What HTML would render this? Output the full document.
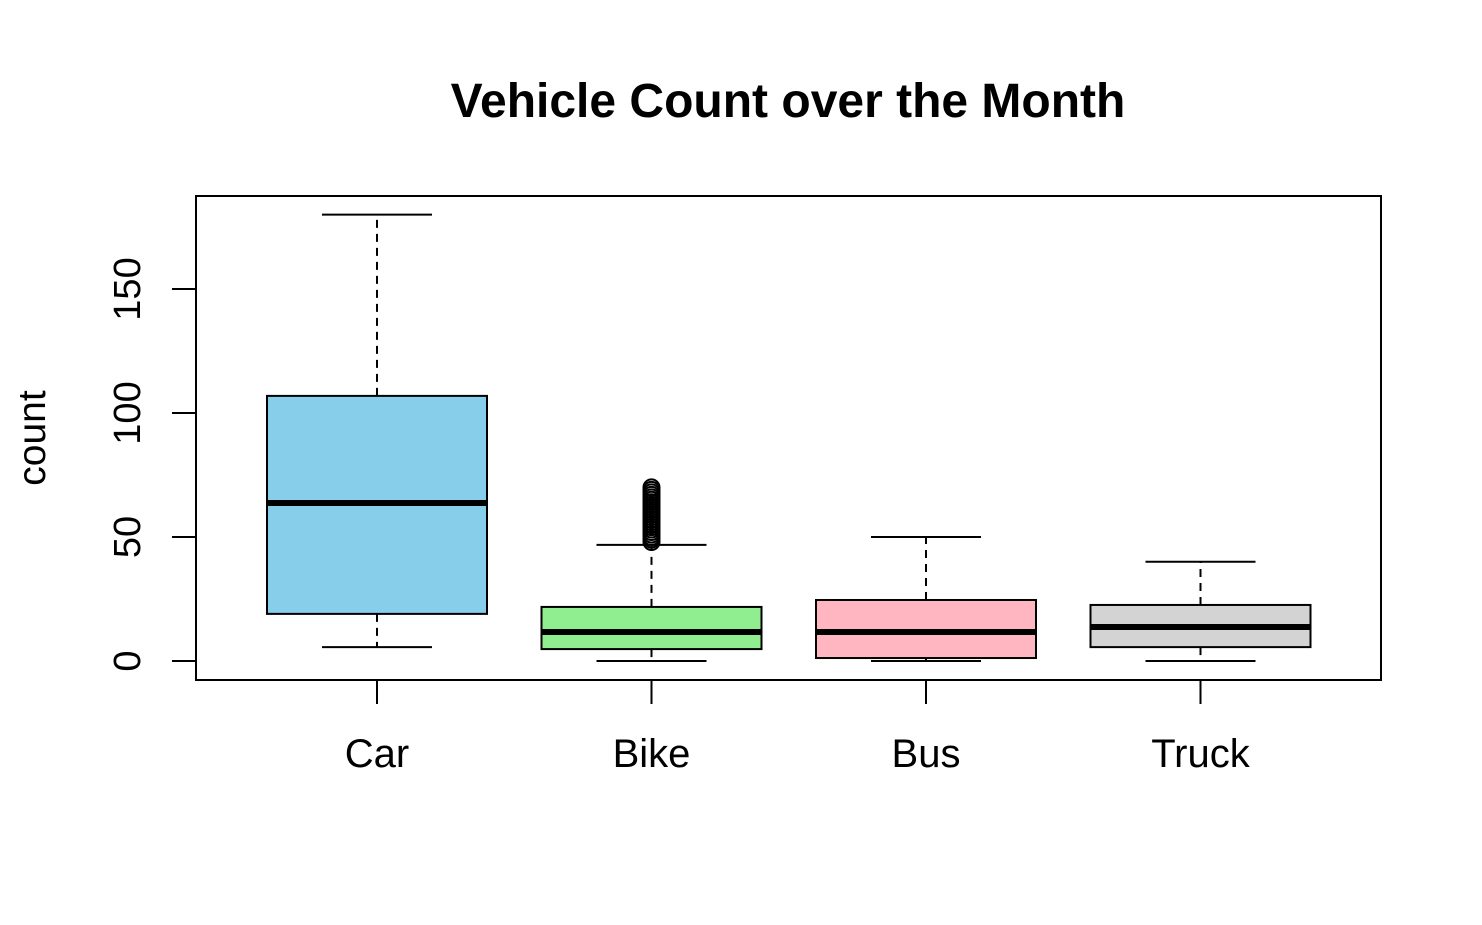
<!DOCTYPE html>
<html><head><meta charset="utf-8"><style>
html,body{margin:0;padding:0;background:#fff;}
svg{display:block;font-family:"Liberation Sans",Arial,sans-serif;}
</style></head><body>
<svg id="chart" width="1482" height="925">
<text x="788" y="117" text-anchor="middle" font-size="48" font-weight="bold">Vehicle Count over the Month</text>
<text transform="translate(45,438) rotate(-90)" text-anchor="middle" font-size="39">count</text>
<rect x="196" y="196" width="1185" height="484" fill="none" stroke="#000" stroke-width="2"/>
<g id="marks"></g>
</svg>
<script>
const categories=["Car","Bike","Bus","Truck"];
const colors=["#87CEEB","#90EE90","#FFB6C1","#D3D3D3"];
const lowerWhisker=[5.6,0,0,0];
const q1=[19,4.8,1.2,5.6];
const median=[63.7,11.7,11.7,13.7];
const q3=[106.9,21.8,24.6,22.6];
const upperWhisker=[180,46.8,50,40];
const bikeOutliers=[48,49,50,51,52,53,54,55,56,57,58,59,60,61,62,63,64,65,66,67,68,69,70];
const yTicks=[0,50,100,150];
const NS="http://www.w3.org/2000/svg";
const g=document.getElementById('marks');
const y=v=>661-v*2.48;
const x=i=>377+i*274.5;
function el(t,a){const e=document.createElementNS(NS,t);for(const k in a)e.setAttribute(k,a[k]);g.appendChild(e);return e;}
yTicks.forEach(t=>{
 const l=el('line',{x1:172,x2:196,y1:y(t),y2:y(t),stroke:'#000','stroke-width':2});
 
 
 const tx=el('text',{transform:`translate(140,${y(t)}) rotate(-90)`,'text-anchor':'middle','font-size':38});
 tx.textContent=t;
 
 
});
const bw=110,cw=55;
categories.forEach((c,i)=>{
 const cx=x(i);
 const tk=el('line',{x1:cx,x2:cx,y1:680,y2:704,stroke:'#000','stroke-width':2});
 
 
 const lb=el('text',{x:cx,y:767,'text-anchor':'middle','font-size':40});
 lb.textContent=c;
 
 
 const w1=el('line',{x1:cx,x2:cx,y1:y(q3[i]),y2:y(upperWhisker[i]),stroke:'#000','stroke-width':2,'stroke-dasharray':'8,6'});
 
 
 const w2=el('line',{x1:cx,x2:cx,y1:y(q1[i]),y2:y(lowerWhisker[i]),stroke:'#000','stroke-width':2,'stroke-dasharray':'8,6'});
 
 
 [upperWhisker[i],lowerWhisker[i]].forEach(v=>{
  const cp=el('line',{x1:cx-cw,x2:cx+cw,y1:y(v),y2:y(v),stroke:'#000','stroke-width':2});
  
  
 });
 const b=el('rect',{x:cx-bw,y:y(q3[i]),width:2*bw,height:y(q1[i])-y(q3[i]),fill:colors[i],stroke:'#000','stroke-width':2});
 
 
 const m=el('line',{x1:cx-bw,x2:cx+bw,y1:y(median[i]),y2:y(median[i]),stroke:'#000','stroke-width':6});
 
 
});
bikeOutliers.forEach(v=>{
 const o=el('circle',{cx:x(1),cy:y(v),r:8,fill:'none',stroke:'#000','stroke-width':2});
 
 
});
</script>
</body></html>
